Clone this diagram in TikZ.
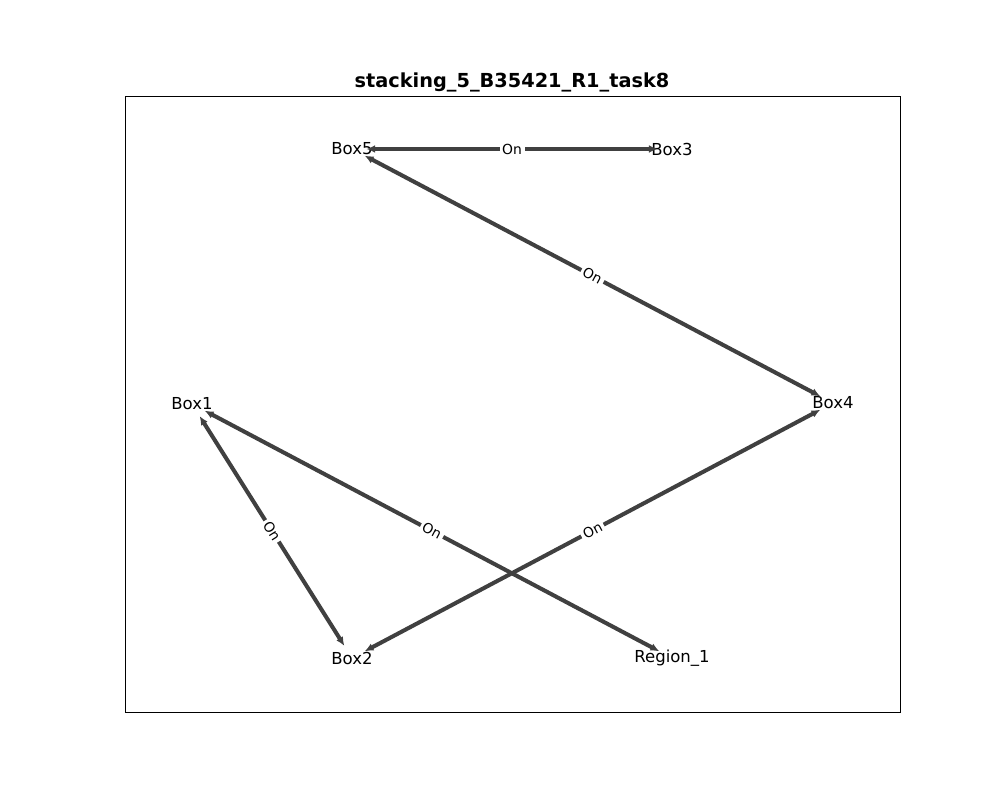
\documentclass[tikz,border=0pt]{standalone}
\usepackage{fontspec}
\setmainfont{DejaVu Sans}
\usetikzlibrary{arrows.meta}

\begin{document}
\begin{tikzpicture}[
    x=0.02cm, y=-0.02cm,
    vertex/.style={circle, inner sep=0pt, minimum size=0.56cm},
    vlabel/.style={font=\fontsize{9.4}{11}\selectfont},
    onedge/.style={line width=2.3pt, draw=black!75, {Latex[length=5pt,width=4.5pt]}-{Latex[length=5pt,width=4.5pt]}},
    onlabel/.style={fill=white, inner sep=1.5pt, sloped, font=\fontsize{7.9}{9}\selectfont}
    ]
    \useasboundingbox (0,0) rectangle (1000,800);
    \draw[line width=0.5pt] (125,96) rectangle (900,712);
    \node[font=\bfseries\fontsize{11}{13}\selectfont] (title) at (512,82) {stacking\_5\_B35421\_R1\_task8};

    \node[vertex, label={[vlabel]center:Box5}] (box5) at (352,149) {};
    \node[vertex, label={[vlabel]center:Box3}] (box3) at (672,149) {};
    \node[vertex, label={[vlabel]center:Box1}] (box1) at (192,404) {};
    \node[vertex, label={[vlabel]center:Box4}] (box4) at (833,403) {};
    \node[vertex, label={[vlabel]center:Box2}] (box2) at (352,658) {};
    \node[vertex, label={[vlabel]center:Region\_1}] (region1) at (672,658) {};

    \draw[onedge] (box5) -- node[onlabel] {On} (box3);
    \draw[onedge] (box5) -- node[onlabel] {On} (box4);
    \draw[onedge] (box1) -- node[onlabel] {On} (box2);
    \draw[onedge] (box1) -- node[onlabel] {On} (region1);
    \draw[onedge] (box2) -- node[onlabel] {On} (box4);
\end{tikzpicture}
\end{document}
